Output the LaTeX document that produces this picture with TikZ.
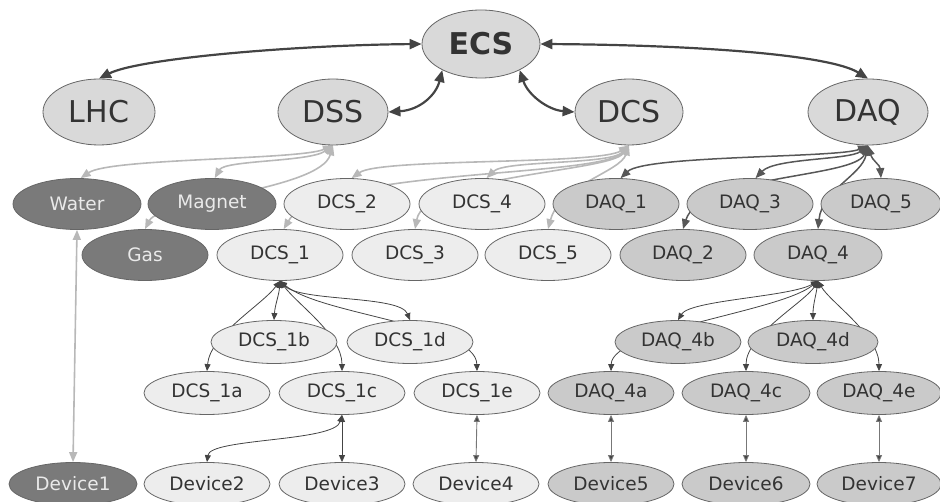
\documentclass[tikz,border=0pt]{standalone}
\usepackage{fontspec}
\setmainfont{DejaVu Sans}
\usetikzlibrary{shapes.geometric,arrows.meta,backgrounds}
\definecolor{topfill}{HTML}{D9D9D9}
\definecolor{dcsfill}{HTML}{EDEDED}
\definecolor{daqfill}{HTML}{CACACA}
\definecolor{darkfill}{HTML}{7A7A7A}
\definecolor{bordercol}{HTML}{666666}
\definecolor{txt}{HTML}{333333}
\definecolor{lighttxt}{HTML}{EAEAEA}
\definecolor{darkedge}{HTML}{444444}
\definecolor{lightedge}{HTML}{B8B8B8}
\definecolor{midedge}{HTML}{777777}
\tikzset{
  nd/.style={ellipse, draw=bordercol, line width=0.8pt, inner sep=0pt, text=txt,
    font=\fontsize{18.5}{20}\selectfont},
  topn/.style={nd, fill=topfill, minimum width=112pt, minimum height=66pt,
    font=\fontsize{30}{32}\selectfont},
  rowA/.style={nd, minimum width=126pt, minimum height=51pt},
  rowB/.style={nd, minimum width=126pt, minimum height=43pt},
  dcsn/.style={fill=dcsfill},
  daqn/.style={fill=daqfill},
  darkn/.style={fill=darkfill, text=lighttxt},
  topedge/.style={draw=darkedge, line width=2.2pt,
    {Triangle[length=12pt,width=10pt]}-{Triangle[length=12pt,width=10pt]}},
  lightedge/.style={draw=lightedge, line width=1.6pt,
    {Triangle[length=10pt,width=8pt]}-{Triangle[length=10pt,width=8pt]}},
  daqedge/.style={draw=darkedge!90, line width=1.5pt,
    {Triangle[length=10pt,width=8pt]}-{Triangle[length=10pt,width=8pt]}},
  smalledge/.style={draw=darkedge, line width=0.8pt,
    {Triangle[length=7pt,width=6pt]}-{Triangle[length=7pt,width=6pt]}},
  devedge/.style={draw=midedge, line width=0.9pt,
    {Triangle[length=7pt,width=6pt,fill=darkedge]}-{Triangle[length=7pt,width=6pt,fill=darkedge]}},
}
\begin{document}
\begin{tikzpicture}[x=1pt,y=-1pt]
\useasboundingbox (0,0) rectangle (940,502);
\clip (0,0) rectangle (940,502);
% top row
\node[topn, minimum width=118pt, minimum height=68pt, font=\fontsize{30}{32}\selectfont\bfseries] (ECS) at (481,44) {ECS};
\node[topn] (LHC) at (99,112) {LHC};
\node[topn, minimum width=110pt] (DSS) at (333,112) {DSS};
\node[topn, minimum width=108pt] (DCS) at (629,112) {DCS};
\node[topn, minimum width=120pt] (DAQ) at (868,112) {DAQ};
% row 2
\node[rowA, darkn, minimum width=128pt] (Water) at (77,204) {Water};
\node[rowA, darkn, minimum width=128pt] (Magnet) at (212,204) {Magnet};
\node[rowA, dcsn] (DCS2) at (347,204) {DCS\_2};
\node[rowA, dcsn] (DCS4) at (482,204) {DCS\_4};
\node[rowA, daqn] (DAQ1) at (616,204) {DAQ\_1};
\node[rowA, daqn] (DAQ3) at (750,204) {DAQ\_3};
\node[rowA, daqn, minimum width=120pt] (DAQ5) at (881,204) {DAQ\_5};
% row 3
\node[rowA, darkn] (Gas) at (145,255) {Gas};
\node[rowA, dcsn] (DCS1) at (280,255) {DCS\_1};
\node[rowA, dcsn] (DCS3) at (415,255) {DCS\_3};
\node[rowA, dcsn] (DCS5) at (548,255) {DCS\_5};
\node[rowA, daqn] (DAQ2) at (683,255) {DAQ\_2};
\node[rowA, daqn, minimum width=128pt] (DAQ4) at (818,255) {DAQ\_4};
% row 4
\node[rowB, dcsn] (DCS1b) at (274,342) {DCS\_1b};
\node[rowB, dcsn] (DCS1d) at (410,342) {DCS\_1d};
\node[rowB, daqn] (DAQ4b) at (678,342) {DAQ\_4b};
\node[rowB, daqn, minimum width=130pt] (DAQ4d) at (813,342) {DAQ\_4d};
% row 5
\node[rowB, dcsn] (DCS1a) at (207,393) {DCS\_1a};
\node[rowB, dcsn] (DCS1c) at (342,393) {DCS\_1c};
\node[rowB, dcsn] (DCS1e) at (477,393) {DCS\_1e};
\node[rowB, daqn] (DAQ4a) at (611,393) {DAQ\_4a};
\node[rowB, daqn, minimum width=128pt] (DAQ4c) at (746,393) {DAQ\_4c};
\node[rowB, daqn, minimum width=124pt] (DAQ4e) at (879,393) {DAQ\_4e};
% row 6
\node[rowB, darkn, minimum width=128pt] (Dev1) at (73,484) {Device1};
\node[rowB, dcsn] (Dev2) at (207,484) {Device2};
\node[rowB, dcsn] (Dev3) at (342,484) {Device3};
\node[rowB, dcsn] (Dev4) at (476,484) {Device4};
\node[rowB, daqn] (Dev5) at (611,484) {Device5};
\node[rowB, daqn, minimum width=128pt] (Dev6) at (746,484) {Device6};
\node[rowB, daqn, minimum width=124pt] (Dev7) at (879,484) {Device7};

\begin{pgfonlayer}{background}
% ECS links
\draw[topedge] (LHC.north) .. controls (140,58) and (300,45) .. (ECS.west);
\draw[topedge] (ECS.east) .. controls (700,45) and (830,55) .. (DAQ.north);
\draw[topedge] (DSS.east) .. controls (420,110) and (436,95) .. (ECS.214);
\draw[topedge] (ECS.326) .. controls (528,95) and (548,110) .. (DCS.west);
% DSS
\draw[lightedge] (DSS.south) .. controls (300,160) and (110,158) .. (Water.82);
\draw[lightedge] (DSS.south) .. controls (310,162) and (225,160) .. (Magnet.84);
\draw[lightedge] (DSS.south) .. controls (320,190) and (160,200) .. (Gas.north);
\draw[lightedge] (Water.south) -- (Dev1.north);
% DCS
\draw[lightedge] (DCS.south) .. controls (600,165) and (380,158) .. (DCS2.80);
\draw[lightedge] (DCS.south) .. controls (610,165) and (505,160) .. (DCS4.80);
\draw[lightedge] (DCS.south) .. controls (600,178) and (320,168) .. (DCS1.82);
\draw[lightedge] (DCS.south) .. controls (610,172) and (425,175) .. (DCS3.north);
\draw[lightedge] (DCS.south) .. controls (620,172) and (560,185) .. (DCS5.north);
% DAQ
\draw[daqedge] (DAQ.south) .. controls (840,158) and (645,155) .. (DAQ1.80);
\draw[daqedge] (DAQ.south) .. controls (850,160) and (775,158) .. (DAQ3.78);
\draw[daqedge] (DAQ.south) .. controls (872,160) and (880,165) .. (DAQ5.north);
\draw[daqedge] (DAQ.south) .. controls (855,178) and (700,175) .. (DAQ2.north);
\draw[daqedge] (DAQ.south) .. controls (862,175) and (822,190) .. (DAQ4.north);
% DCS_1
\draw[smalledge] (DCS1.south) .. controls (279,295) and (275,305) .. (DCS1b.north);
\draw[smalledge] (DCS1.south) .. controls (300,302) and (400,295) .. (DCS1d.north);
\draw[smalledge] (DCS1.south) .. controls (262,305) and (210,335) .. (DCS1a.north);
\draw[smalledge] (DCS1.south) .. controls (298,305) and (342,335) .. (DCS1c.north);
\draw[smalledge] (DCS1.south) .. controls (320,315) and (476,325) .. (DCS1e.north);
% DAQ_4
\draw[smalledge] (DAQ4.south) .. controls (790,297) and (690,300) .. (DAQ4b.north);
\draw[smalledge] (DAQ4.south) .. controls (816,295) and (813,305) .. (DAQ4d.north);
\draw[smalledge] (DAQ4.south) .. controls (780,312) and (612,330) .. (DAQ4a.north);
\draw[smalledge] (DAQ4.south) .. controls (805,302) and (746,335) .. (DAQ4c.north);
\draw[smalledge] (DAQ4.south) .. controls (830,302) and (879,335) .. (DAQ4e.north);
% devices
\draw[smalledge] (DCS1c.south) .. controls (335,442) and (210,438) .. (Dev2.north);
\draw[smalledge] (DCS1c.south) -- (Dev3.north);
\draw[devedge] (DCS1e.south) -- (Dev4.north);
\draw[devedge] (DAQ4a.south) -- (Dev5.north);
\draw[devedge] (DAQ4c.south) -- (Dev6.north);
\draw[devedge] (DAQ4e.south) -- (Dev7.north);
\end{pgfonlayer}
\end{tikzpicture}
\end{document}
